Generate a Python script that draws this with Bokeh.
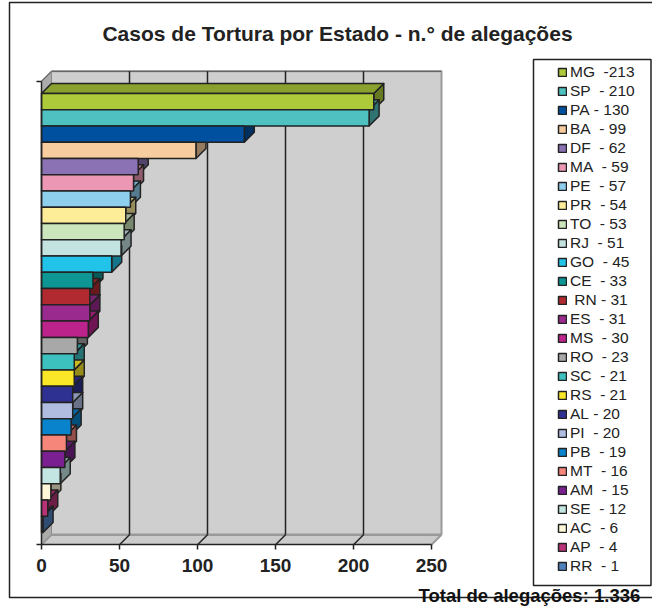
from bokeh.plotting import figure
from bokeh.models import (Range1d, LinearAxis, FixedTicker, CustomJSTickFormatter,
                          Legend, LegendItem, Label, ColumnDataSource)
from bokeh.embed import file_html
from bokeh.resources import INLINE

# ---------------- data ----------------
states = ["MG", "SP", "PA", "BA", "DF", "MA", "PE", "PR", "TO", "RJ", "GO", "CE", "RN", "ES",
          "MS", "RO", "SC", "RS", "AL", "PI", "PB", "MT", "AM", "SE", "AC", "AP", "RR"]
values = [213, 210, 130, 99, 62, 59, 57, 54, 53, 51, 45, 33, 31, 31,
          30, 23, 21, 21, 20, 20, 19, 16, 15, 12, 6, 4, 1]
legend_labels = ["MG  -213", "SP  - 210", "PA - 130", "BA  - 99", "DF  - 62", "MA  - 59",
                 "PE  - 57", "PR  - 54", "TO  - 53", "RJ  - 51", "GO  - 45", "CE  - 33",
                 " RN - 31", "ES  - 31", "MS  - 30", "RO  - 23", "SC  - 21", "RS  - 21",
                 "AL - 20", "PI  - 20", "PB  - 19", "MT  - 16", "AM  - 15", "SE  - 12",
                 "AC  - 6", "AP  - 4", "RR  - 1"]
colors = ["#acca3a", "#4fc1c0", "#0050a0", "#f7cc9e", "#8b72b5", "#ec98b4", "#8ecfee",
          "#fdec98", "#cbe5bc", "#c3e3e1", "#22c3e8", "#0e9694", "#b02a30", "#9a2a8e",
          "#bc248c", "#a8a8a8", "#3cc1bf", "#fae828", "#2e3192", "#b0bde0", "#0883cc",
          "#f6857a", "#7a2090", "#c4e6e3", "#fff8d8", "#b73277", "#4f81bd"]
x_ticks = [0, 50, 100, 150, 200, 250]
title_text = "Casos de Tortura por Estado - n.\u00b0 de alega\u00e7\u00f5es"
total_text = "Total de alega\u00e7\u00f5es: 1.336"

# ---------------- geometry ----------------
W, H = 652, 606
SX, SY = 1.56, 16.26          # px per unit
def xd(X):                    # canvas pixel -> data x
    return (X - 41) / SX
def yd(Y):                    # canvas pixel (from top) -> data y
    return (532 - Y) / SY

DX = 10 / SX                  # depth offset in data units
DY = 10 / SY
Y_FLOOR = -0.75
Y_TOP = 27.75
XMAX = 250

def shade(c, f):
    r, g, b = int(c[1:3], 16), int(c[3:5], 16), int(c[5:7], 16)
    return "#%02x%02x%02x" % (int(r * f), int(g * f), int(b * f))

p = figure(width=W, height=H, output_backend="svg", toolbar_location=None,
           x_range=Range1d(xd(0), xd(W)), y_range=Range1d(yd(H), yd(0)),
           x_axis_type=None, y_axis_type=None, min_border=0)
p.title.visible = False
p.outline_line_color = None
p.background_fill_color = "white"
p.border_fill_color = "white"
p.xgrid.visible = False
p.ygrid.visible = False

# outer frame
p.line([xd(W + 5), xd(9), xd(9), xd(W + 5)], [yd(2), yd(2), yd(597), yd(597)],
       line_color="#222222", line_width=1.5)

# walls
p.patch([DX, XMAX + DX, XMAX + DX, DX], [Y_FLOOR + DY, Y_FLOOR + DY, Y_TOP + DY, Y_TOP + DY],
        fill_color="#cfcfcf", line_color=None)
p.patch([0, DX, DX, 0], [Y_FLOOR, Y_FLOOR + DY, Y_TOP + DY, Y_TOP],
        fill_color="#ababab", line_color=None)
p.patch([0, XMAX, XMAX + DX, DX], [Y_FLOOR, Y_FLOOR, Y_FLOOR + DY, Y_FLOOR + DY],
        fill_color="#cbcbcb", line_color=None)
# wall edges
p.line([DX, XMAX + DX, XMAX + DX], [Y_TOP + DY, Y_TOP + DY, Y_FLOOR + DY],
       line_color="#9a9a9a", line_width=2)
p.line([DX, XMAX + DX], [Y_FLOOR + DY, Y_FLOOR + DY], line_color="#9a9a9a", line_width=2.5)
p.line([XMAX, XMAX + DX], [Y_FLOOR, Y_FLOOR + DY], line_color="#9a9a9a", line_width=2)
p.line([0, DX], [Y_FLOOR, Y_FLOOR + DY], line_color="#9a9a9a", line_width=2)
p.line([0, DX, XMAX + DX], [Y_TOP, Y_TOP + DY, Y_TOP + DY], line_color="#666666", line_width=1.2)
p.line([DX, DX], [Y_FLOOR + DY, Y_TOP + DY], line_color="#8a8a8a", line_width=1)

# gridlines (back wall + floor)
inner = [t for t in x_ticks if 0 < t < XMAX]
p.segment(x0=[t + DX for t in inner], y0=[Y_FLOOR + DY] * len(inner),
          x1=[t + DX for t in inner], y1=[Y_TOP + DY] * len(inner),
          line_color="#222222", line_width=1.5)
p.segment(x0=inner, y0=[Y_FLOOR] * len(inner),
          x1=[t + DX for t in inner], y1=[Y_FLOOR + DY] * len(inner),
          line_color="#222222", line_width=1.5)

# bars (3D)
N = len(values)
y0 = [N - 1 - i for i in range(N)]
y1 = [N - i for i in range(N)]
side_xs = [[v, v + DX, v + DX, v] for v in values]
side_ys = [[a, a + DY, b + DY, b] for a, b in zip(y0, y1)]
top_xs = [[0, v, v + DX, DX] for v in values]
top_ys = [[b, b, b + DY, b + DY] for b in y1]
p.patches(side_xs, side_ys, fill_color=[shade(c, 0.6) for c in colors],
          line_color="#222222", line_width=1.5, line_join="round")
p.patches(top_xs, top_ys, fill_color=[shade(c, 0.8) for c in colors],
          line_color="#222222", line_width=1.5, line_join="round")
src = ColumnDataSource(dict(left=[0] * N, right=values, bottom=y0, top=y1,
                            color=colors, state=states))
bars = p.quad(left="left", right="right", bottom="bottom", top="top", source=src,
              fill_color="color", line_color="#222222", line_width=1.5)

# axes
xaxis = LinearAxis(fixed_location=Y_FLOOR, bounds=(0, XMAX),
                   ticker=FixedTicker(ticks=x_ticks))
xaxis.axis_line_color = "#222222"
xaxis.axis_line_width = 1.5
xaxis.major_tick_line_color = "#222222"
xaxis.major_tick_line_width = 1.5
xaxis.major_tick_in = 0
xaxis.major_tick_out = 5
xaxis.minor_tick_line_color = None
xaxis.major_label_standoff = 9
xaxis.major_label_text_font = "Liberation Sans"
xaxis.major_label_text_font_style = "bold"
xaxis.major_label_text_font_size = "19px"
xaxis.major_label_text_color = "#222222"
p.add_layout(xaxis, "below")

yaxis = LinearAxis(fixed_location=0, bounds=(Y_FLOOR, Y_TOP),
                   ticker=FixedTicker(ticks=[Y_FLOOR, Y_TOP]),
                   formatter=CustomJSTickFormatter(code="return ''"))
yaxis.axis_line_color = "#222222"
yaxis.axis_line_width = 1.5
yaxis.major_tick_line_color = "#222222"
yaxis.major_tick_line_width = 1.5
yaxis.major_tick_in = 0
yaxis.major_tick_out = 5
yaxis.minor_tick_line_color = None
p.add_layout(yaxis, "left")

# legend box
p.quad(left=[xd(533)], right=[xd(650.5)], bottom=[yd(585)], top=[yd(59)],
       fill_color="white", line_color="#222222", line_width=1.5)

items = [LegendItem(label=lab.replace(" ", "\u00a0"), renderers=[bars], index=i)
         for i, lab in enumerate(legend_labels)]
legend = Legend(items=items, location=(557, 606 - 575), orientation="vertical",
                glyph_width=10, glyph_height=10, label_height=19, spacing=0,
                label_standoff=3, padding=0, margin=0,
                label_text_font="Liberation Sans", label_text_font_size="15.5px",
                label_text_color="#222222", border_line_color=None,
                background_fill_alpha=0)
p.add_layout(legend, "center")

# title and total
p.add_layout(Label(x=xd(337), y=yd(33), text=title_text, text_align="center",
                   text_baseline="middle", text_font="Liberation Sans",
                   text_font_style="bold", text_font_size="21px", text_color="#222222"))
p.add_layout(Label(x=xd(418), y=yd(594.5), text=total_text, text_align="left",
                   text_baseline="middle", text_font="Liberation Sans",
                   text_font_style="bold", text_font_size="18.5px", text_color="#111111"))

open("out.html", "w").write(file_html(p, INLINE))
